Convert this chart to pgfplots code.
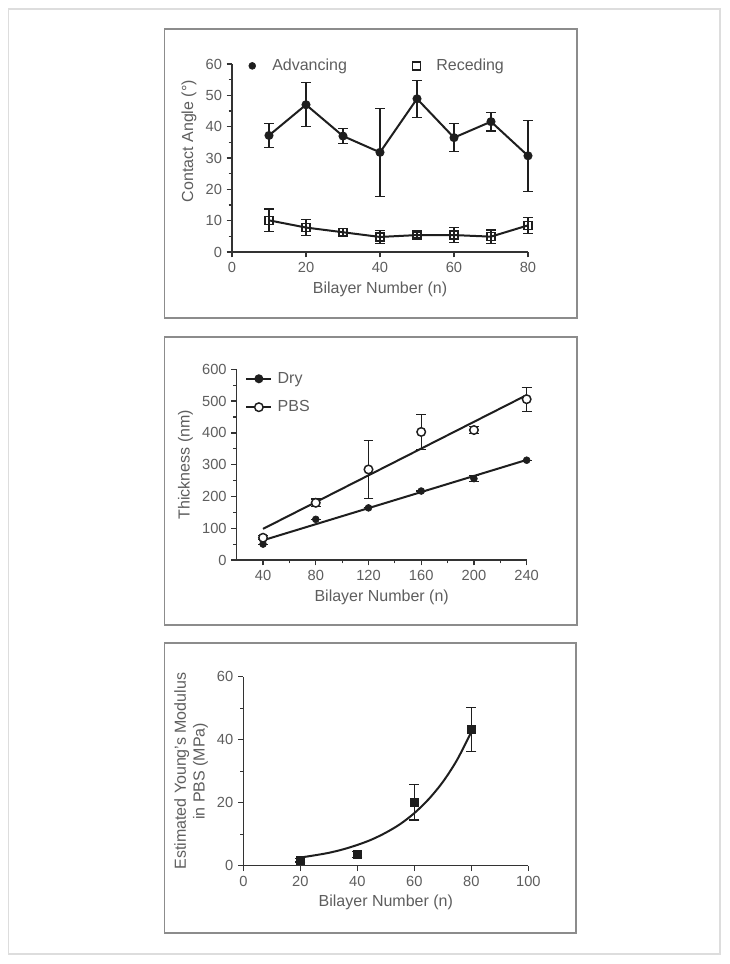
\documentclass[border=0pt]{standalone}
\usepackage{pgfplots}
\pgfplotsset{compat=1.18}
\usepackage{fontspec}
\setmainfont{Liberation Sans}
\definecolor{txt}{HTML}{5E5E5E}
\definecolor{axc}{HTML}{333333}
\definecolor{dat}{HTML}{1E1E1E}
\definecolor{boxc}{HTML}{8C8C8C}
\definecolor{outerc}{HTML}{DDDDDD}

\pgfplotsset{
  panel/.style={
    scale only axis,
    anchor=south west,
    axis x line=bottom, axis y line=left,
    axis line style={-, axc, line width=1.1pt},
    tick align=outside,
    major tick length=4pt, minor tick length=2.5pt,
    major tick style={axc, line width=1pt},
    minor tick style={axc, line width=0.9pt},
    tick label style={font=\fontsize{11}{13}\selectfont, text=txt},
    label style={font=\fontsize{12}{14}\selectfont, text=txt},
    /pgf/number format/assume math mode=true,
    clip=false,
    legend cell align=left,
  },
  dline/.style={dat, line width=1.5pt},
  ebars/.style={error bars/y dir=both, error bars/y explicit,
    error bars/error bar style={line width=0.9pt, dat, solid},
    error bars/error mark options={rotate=90, dat, line width=0.9pt, mark size=3.7pt}},
  legmark/.style={legend image code/.code={\draw[##1] plot coordinates {(0pt,0pt)}; \path[draw=none, fill=none] (-3pt,0pt) -- (13pt,0pt);}},
  legline/.style={legend image code/.code={\draw[##1, mark repeat=2, mark phase=2] plot coordinates {(0pt,0pt) (9.4pt,0pt) (18.8pt,0pt)}; \path[draw=none, fill=none] (0pt,0pt) -- (21.5pt,0pt);}},
}

\pgfplotstableread{
x y e
10 37.2 3.9
20 47.0 7.0
30 37.0 2.4
40 31.8 14.0
50 48.9 5.9
60 36.5 4.4
70 41.6 3.0
80 30.7 11.3
}\advancing
\pgfplotstableread{
x y e
10 10.1 3.6
20 7.8 2.6
30 6.3 1.2
40 4.8 2.0
50 5.4 0.8
60 5.4 2.4
70 4.9 2.1
80 8.5 2.5
}\receding
\pgfplotstableread{
x y e
40 50 0
80 128 0
120 164 0
160 217 0
200 256 9
240 314 0
}\dry
\pgfplotstableread{
x y e
40 70 6
80 180 12
120 285 91
160 403 56
200 409 10
240 506 38
}\pbs
\pgfplotstableread{
x y e
20 1.8 0.6
40 3.6 1.0
60 20.1 5.6
80 43.3 7.0
}\modulus

\begin{document}
\begin{tikzpicture}
\useasboundingbox (0,0) rectangle (546.75pt,723pt);
\fill[white] (0,0) rectangle (546.75pt,723pt);
\draw[outerc, line width=0.8pt] (6.4pt,7.5pt) rectangle (540pt,716.25pt);
\draw[boxc, line width=1.4pt] (123.4pt,484.3pt) rectangle (432.5pt,701.0pt);
\draw[boxc, line width=1.4pt] (123.4pt,254.25pt) rectangle (432.5pt,470.5pt);
\draw[boxc, line width=1.4pt] (123.4pt,23.5pt) rectangle (432pt,240.5pt);

% Panel 1
\begin{axis}[panel, at={(174pt,534pt)}, width=222pt, height=141pt,
  xmin=0, xmax=80, ymin=0, ymax=60,
  xtick={0,20,...,80}, ytick={0,10,...,60}, minor y tick num=1,
  xlabel={Bilayer Number (n)}, ylabel={Contact Angle (°)},
  ylabel style={at={(ticklabel cs:0.59)}},
  legend columns=2,
  legend style={draw=none, fill=none, inner sep=0pt,
    at={(rel axis cs:0.054,0.99)}, anchor=west,
    font=\fontsize{12}{14}\selectfont, text=txt,
    /tikz/every even column/.append style={column sep=47pt}},
]
\addplot[forget plot, dline, mark=*, mark size=2.6pt, mark options={solid, fill=dat}, ebars]
  table[x=x, y=y, y error=e] {\advancing};
\addplot[forget plot, dline, mark=square, mark size=3pt, mark options={solid, fill=white, line width=1.1pt}, ebars]
  table[x=x, y=y, y error=e] {\receding};
\addlegendimage{only marks, mark=*, mark size=2.6pt, dat, legmark}
\addlegendentry{Advancing}
\addlegendimage{only marks, mark=square, mark size=3pt, dat, mark options={fill=white, line width=1.1pt}, legmark}
\addlegendentry{Receding}
\end{axis}

% Panel 2
\begin{axis}[panel, at={(177.5pt,303pt)}, width=217.5pt, height=143pt,
  xmin=20, xmax=240, ymin=0, ymax=600,
  xtick={40,80,...,240}, minor x tick num=1,
  ytick={0,100,...,600}, minor y tick num=1,
  xlabel={Bilayer Number (n)}, ylabel={Thickness (nm)},
  legend style={draw=none, fill=none, inner sep=0pt, row sep=7.5pt,
    at={(rel axis cs:0.029,1.0)}, anchor=north west,
    font=\fontsize{12}{14}\selectfont, text=txt},
]
\addplot[forget plot, dline] coordinates {(40,62) (240,315)};
\addplot[forget plot, dline] coordinates {(40,98) (240,519)};
\addplot[forget plot, only marks, dat, mark=*, mark size=2.6pt, ebars]
  table[x=x, y=y, y error=e] {\dry};
\addplot[forget plot, only marks, dat, mark=*, mark size=3.2pt, mark options={fill=white, line width=1.1pt}, ebars]
  table[x=x, y=y, y error=e] {\pbs};
\addlegendimage{dline, mark=*, mark size=2.6pt, legline}
\addlegendentry{Dry}
\addlegendimage{dline, mark=*, mark size=3.2pt, mark options={fill=white, line width=1.1pt}, legline}
\addlegendentry{PBS}
\end{axis}

% Panel 3
\begin{axis}[panel, at={(182.5pt,73.7pt)}, width=213.75pt, height=141.75pt,
  xmin=0, xmax=100, ymin=0, ymax=60,
  xtick={0,20,...,100}, ytick={0,20,40,60}, minor y tick num=1,
  xlabel={Bilayer Number (n)},
  ylabel={Estimated Young's Modulus\\in PBS (MPa)},
  ylabel style={align=center},
]
\addplot[dline, smooth] coordinates {(20,2.6) (25,3.3) (30,4.1) (35,5.2) (40,6.6) (45,8.3) (50,10.5) (55,13.2) (60,16.7) (65,21.1) (70,26.6) (75,33.6) (80,42.5)};
\addplot[only marks, dat, mark=square*, mark size=3pt, ebars]
  table[x=x, y=y, y error=e] {\modulus};
\end{axis}
\end{tikzpicture}
\end{document}
